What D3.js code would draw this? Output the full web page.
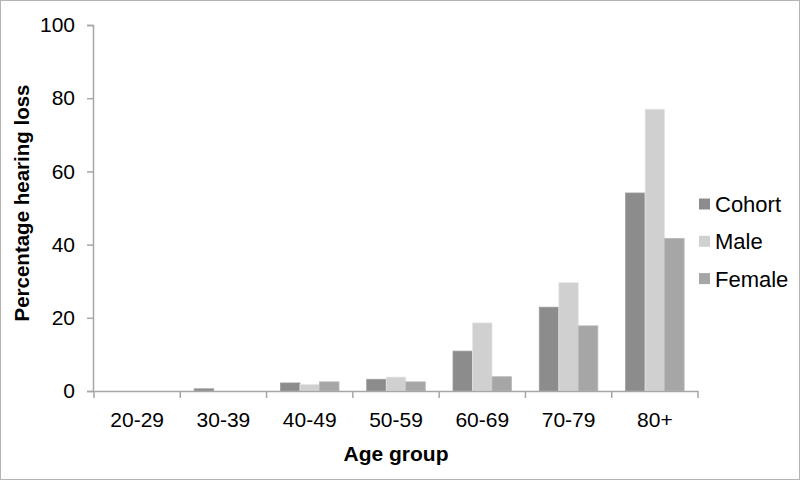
<!DOCTYPE html>
<html>
<head>
<meta charset="utf-8">
<script src="https://cdn.jsdelivr.net/npm/d3@7"></script>
<style>
  body { margin: 0; background: #fff; }
  svg text { font-family: "Liberation Sans", Arial, sans-serif; fill: #000; }
</style>
</head>
<body>
<div id="chart"></div>
<script>
// Data
const ageGroups = ["20-29", "30-39", "40-49", "50-59", "60-69", "70-79", "80+"];
const seriesNames = ["Cohort", "Male", "Female"];
const cohort = [0, 0.6, 2.2, 3.2, 10.9, 22.9, 54.1];
const male = [0, 0, 1.8, 3.8, 18.6, 29.6, 77.0];
const female = [0, 0, 2.5, 2.5, 3.9, 17.8, 41.7];
const yTicks = [0, 20, 40, 60, 80, 100];

const colors = { "Cohort": "#8c8c8c", "Male": "#d0d0d0", "Female": "#a6a6a6" };
const seriesValues = { "Cohort": cohort, "Male": male, "Female": female };

const width = 800, height = 480;
const margin = { top: 25, right: 102, bottom: 89, left: 94 };

const svg = d3.select("#chart")
    .append("svg")
    .attr("width", width)
    .attr("height", height);

// outer frame
svg.append("rect")
    .attr("x", 0.5).attr("y", 0.5)
    .attr("width", width - 1).attr("height", height - 1)
    .attr("fill", "#fff")
    .attr("stroke", "#b3b3b3");

const x0 = d3.scaleBand()
    .domain(ageGroups)
    .range([margin.left, width - margin.right])
    .paddingInner(0)
    .paddingOuter(0);

const x1 = d3.scaleBand()
    .domain(seriesNames)
    .range([0, x0.bandwidth()])
    .paddingOuter(0.71)
    .paddingInner(0);

const y = d3.scaleLinear()
    .domain([0, 100])
    .range([height - margin.bottom, margin.top]);

// bars
const groups = svg.selectAll(".group")
    .data(ageGroups)
    .enter()
    .append("g")
    .attr("class", "group")
    .attr("transform", d => `translate(${x0(d)},0)`);

groups.selectAll("rect")
    .data((d, i) => seriesNames.map(s => ({ key: s, value: seriesValues[s][i] })))
    .enter()
    .append("rect")
    .attr("x", d => x1(d.key))
    .attr("y", d => y(d.value))
    .attr("width", x1.bandwidth())
    .attr("height", d => y(0) - y(d.value))
    .attr("fill", d => colors[d.key])
    .attr("stroke", d => d3.color(colors[d.key]).brighter(0.3))
    .attr("stroke-width", d => d.value > 0 ? 0.8 : 0);

// y axis
const yAxis = svg.append("g")
    .attr("transform", `translate(${margin.left - 1},0)`)
    .call(d3.axisLeft(y).tickValues(yTicks).tickSize(6).tickSizeOuter(6));
yAxis.select(".domain").attr("stroke", "#a6a6a6").attr("stroke-width", 1.5);
yAxis.selectAll(".tick line").attr("stroke", "#a6a6a6").attr("stroke-width", 1.5);
yAxis.selectAll(".tick text")
    .attr("x", -18)
    .style("font-size", "21px");

// x axis
const xAxis = svg.append("g")
    .attr("transform", `translate(0,${height - margin.bottom})`)
    .call(d3.axisBottom(x0).tickSize(0).tickSizeOuter(0));
xAxis.select(".domain").attr("stroke", "#a6a6a6").attr("stroke-width", 1.5);
xAxis.selectAll(".tick text")
    .attr("dy", "0")
    .attr("y", 36)
    .style("font-size", "21px");

// x tick marks between groups
const boundaries = ageGroups.map(d => x0(d)).concat([x0.range()[1]]);
svg.append("g")
    .selectAll("line")
    .data(boundaries)
    .enter()
    .append("line")
    .attr("x1", d => d).attr("x2", d => d)
    .attr("y1", y(0)).attr("y2", y(0) + 7)
    .attr("stroke", "#a6a6a6")
    .attr("stroke-width", 1.5);

// axis titles
svg.append("text")
    .attr("x", (margin.left + width - margin.right) / 2)
    .attr("y", 461)
    .attr("text-anchor", "middle")
    .style("font-size", "21px")
    .style("font-weight", "bold")
    .text("Age group");

svg.append("text")
    .attr("transform", `translate(29,203) rotate(-90)`)
    .attr("text-anchor", "middle")
    .style("font-size", "20.5px")
    .style("font-weight", "bold")
    .text("Percentage hearing loss");

// legend
const legend = svg.selectAll(".legend")
    .data(seriesNames)
    .enter()
    .append("g")
    .attr("class", "legend")
    .attr("transform", (d, i) => `translate(699,${204 + i * 37.3})`);

legend.append("rect")
    .attr("x", 0).attr("y", -5.5)
    .attr("width", 11).attr("height", 11)
    .attr("fill", d => colors[d]);

legend.append("text")
    .attr("x", 16)
    .attr("y", 0)
    .attr("dy", "0.36em")
    .style("font-size", "22px")
    .text(d => d);
</script>
</body>
</html>
